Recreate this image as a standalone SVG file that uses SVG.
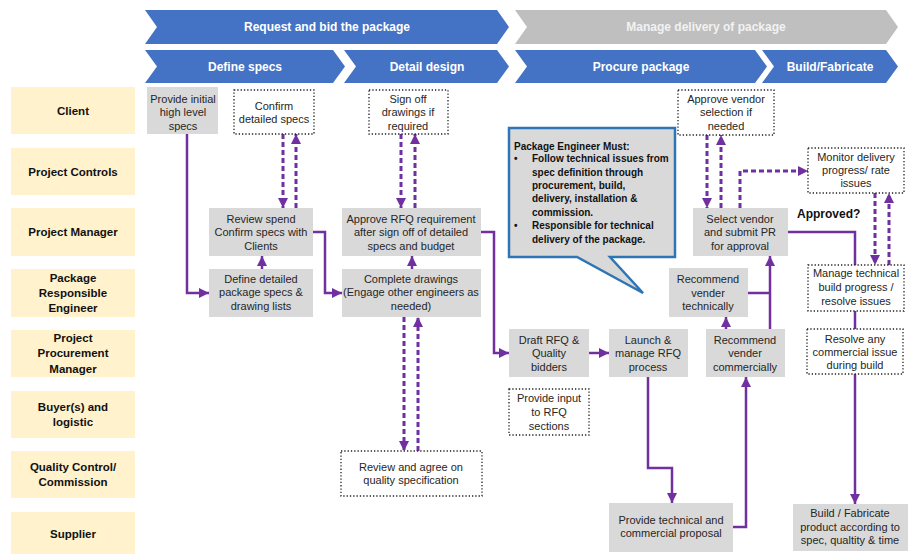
<svg xmlns="http://www.w3.org/2000/svg" width="908" height="554" viewBox="0 0 908 554">
<style>
text{font-family:"Liberation Sans",Arial,sans-serif;}
.ban{fill:#4472C4;}
.bang{fill:#BFBFBF;}
.bt{fill:#fff;font-size:12px;font-weight:bold;text-anchor:middle;}
.btg{fill:#f2f2f2;font-size:12px;font-weight:bold;text-anchor:middle;}
.lane{fill:#FFF2CC;}
.lt{fill:#111;font-size:11.5px;font-weight:bold;text-anchor:middle;}
.box{fill:#D9D9D9;}
.dot{fill:#fff;stroke:#222;stroke-width:1.3;stroke-dasharray:1.3 2;}
.t{fill:#262626;font-size:11px;text-anchor:middle;}
.c{fill:none;stroke:#7030A0;stroke-width:2.5;}
.d{fill:none;stroke:#7030A0;stroke-width:3;stroke-dasharray:5 3;}
.ct{fill:#111;font-size:10px;font-weight:bold;}
</style>
<defs>
<marker id="ah" viewBox="0 0 10 10" refX="10" refY="5" markerWidth="4" markerHeight="4" orient="auto" markerUnits="strokeWidth">
<path d="M0,0 L10,5 L0,10 Z" fill="#7030A0"/>
</marker>
<marker id="ahd" viewBox="0 0 10 10" refX="10" refY="5" markerWidth="3.4" markerHeight="3.4" orient="auto" markerUnits="strokeWidth">
<path d="M0,0 L10,5 L0,10 Z" fill="#7030A0"/>
</marker>
</defs>
<rect width="908" height="554" fill="#fff"/>

<g id="banners">
<polygon class="ban" points="145,10 497,10 509,27 497,44 145,44 157,27"/>
<text class="bt" x="327" y="31">Request and bid the package</text>
<polygon class="bang" points="515,10 886,10 898,27 886,44 515,44 527,27"/>
<text class="btg" x="706" y="31">Manage delivery of package</text>
<polygon class="ban" points="145,50 333,50 345,66.5 333,83 145,83 157,66.5"/>
<text class="bt" x="245" y="71">Define specs</text>
<polygon class="ban" points="344,50 497,50 509,66.5 497,83 344,83 356,66.5"/>
<text class="bt" x="427" y="71">Detail design</text>
<polygon class="ban" points="515,50 755,50 767,66.5 755,83 515,83 527,66.5"/>
<text class="bt" x="641" y="71">Procure package</text>
<polygon class="ban" points="762,50 886,50 898,66.5 886,83 762,83 774,66.5"/>
<text class="bt" x="830" y="71">Build/Fabricate</text>
</g>

<g id="lanes">
<rect class="lane" x="11" y="87" width="124" height="47"/>
<text class="lt" x="73" y="115">Client</text>
<rect class="lane" x="11" y="148" width="124" height="47"/>
<text class="lt" x="73" y="176">Project Controls</text>
<rect class="lane" x="11" y="208" width="124" height="48"/>
<text class="lt" x="73" y="236">Project Manager</text>
<rect class="lane" x="11" y="269" width="124" height="48"/>
<text class="lt" x="73" y="282">Package</text>
<text class="lt" x="73" y="297">Responsible</text>
<text class="lt" x="73" y="312">Engineer</text>
<rect class="lane" x="11" y="330" width="124" height="47"/>
<text class="lt" x="73" y="342">Project</text>
<text class="lt" x="73" y="357">Procurement</text>
<text class="lt" x="73" y="373">Manager</text>
<rect class="lane" x="11" y="391" width="124" height="47"/>
<text class="lt" x="73" y="411">Buyer(s) and</text>
<text class="lt" x="73" y="426">logistic</text>
<rect class="lane" x="11" y="451" width="124" height="47"/>
<text class="lt" x="73" y="471">Quality Control/</text>
<text class="lt" x="73" y="486">Commission</text>
<rect class="lane" x="11" y="512" width="124" height="42"/>
<text class="lt" x="73" y="538">Supplier</text>
</g>

<g id="connectors">
<path class="c" d="M187,134 V293 H209" marker-end="url(#ah)"/>
<path class="c" d="M262,269 V256" marker-end="url(#ah)"/>
<path class="c" d="M313,232 H325 V293 H342" marker-end="url(#ah)"/>
<path class="c" d="M412,269 V256" marker-end="url(#ah)"/>
<path class="d" d="M283,134 V208" marker-end="url(#ahd)"/>
<path class="d" d="M296,208 V134" marker-end="url(#ahd)"/>
<path class="d" d="M401,134 V208" marker-end="url(#ahd)"/>
<path class="d" d="M415,208 V134" marker-end="url(#ahd)"/>
<path class="d" d="M404,317 V451" marker-end="url(#ahd)"/>
<path class="d" d="M418,451 V317" marker-end="url(#ahd)"/>
<path class="c" d="M481,232 H494 V353 H509" marker-end="url(#ah)"/>
<path class="c" d="M589,353 H609" marker-end="url(#ah)"/>
<path class="c" d="M648,377 V468 H672 V503" marker-end="url(#ah)"/>
<path class="c" d="M733,527 H746 V377" marker-end="url(#ah)"/>
<path class="c" d="M726,329 V317" marker-end="url(#ah)"/>
<path class="c" d="M770,329 V256" marker-end="url(#ah)"/>
<path class="c" d="M748,293 H770"/>
<path class="d" d="M707,135 V208" marker-end="url(#ahd)"/>
<path class="d" d="M721,208 V135" marker-end="url(#ahd)"/>
<path class="d" d="M740,208 V171 H808" marker-end="url(#ahd)"/>
<path class="d" d="M875,193 V265" marker-end="url(#ahd)"/>
<path class="d" d="M889,265 V193" marker-end="url(#ahd)"/>
<path class="c" d="M788,232 H855 V265"/>
<path class="c" d="M855,311 V329"/>
<path class="c" d="M855,374 V504" marker-end="url(#ah)"/>
</g>

<g id="n-provide-initial">
<rect class="box" x="147" y="87" width="71" height="47"/>
<text class="t" x="183" y="103">Provide initial</text>
<text class="t" x="183" y="116">high level</text>
<text class="t" x="183" y="130">specs</text>
</g>
<g id="n-confirm-detailed">
<rect class="dot" x="234" y="90" width="80" height="44"/>
<text class="t" x="274" y="110">Confirm</text>
<text class="t" x="274" y="123">detailed specs</text>
</g>
<g id="n-sign-off">
<rect class="dot" x="369" y="90" width="79" height="44"/>
<text class="t" x="408" y="103">Sign off</text>
<text class="t" x="408" y="116">drawings if</text>
<text class="t" x="408" y="130">required</text>
</g>
<g id="n-review-spend">
<rect class="box" x="209" y="208" width="104" height="48"/>
<text class="t" x="261" y="223">Review spend</text>
<text class="t" x="261" y="236">Confirm specs with</text>
<text class="t" x="261" y="250">Clients</text>
</g>
<g id="n-approve-rfq">
<rect class="box" x="342" y="208" width="139" height="48"/>
<text class="t" x="411" y="223">Approve RFQ requirement</text>
<text class="t" x="411" y="236">after sign off of detailed</text>
<text class="t" x="411" y="250">specs and budget</text>
</g>
<g id="n-define-detailed">
<rect class="box" x="209" y="269" width="104" height="48"/>
<text class="t" x="261" y="283">Define detailed</text>
<text class="t" x="261" y="296">package specs &amp;</text>
<text class="t" x="261" y="310">drawing lists</text>
</g>
<g id="n-complete-drawings">
<rect class="box" x="342" y="269" width="139" height="48"/>
<text class="t" x="411" y="283">Complete drawings</text>
<text class="t" x="411" y="296" font-size="10.5">(Engage other engineers as</text>
<text class="t" x="411" y="310">needed)</text>
</g>
<g id="n-callout">
<path d="M509,128 H675 V257 H610 L643,293 L577,257 H509 Z" fill="#D9D9D9" stroke="#2E75B6" stroke-width="2.5" stroke-linejoin="miter"/>
<text class="ct" x="514" y="150">Package Engineer Must:</text>
<text class="ct" x="514" y="162">•</text>
<text class="ct" x="532" y="162">Follow technical issues from</text>
<text class="ct" x="532" y="175.5">spec definition through</text>
<text class="ct" x="532" y="189">procurement, build,</text>
<text class="ct" x="532" y="202">delivery, installation &amp;</text>
<text class="ct" x="532" y="215.5">commission.</text>
<text class="ct" x="514" y="229">•</text>
<text class="ct" x="532" y="229">Responsible for technical</text>
<text class="ct" x="532" y="242.5">delivery of the package.</text>
</g>
<g id="n-approve-vendor">
<rect class="dot" x="678" y="90" width="96" height="45"/>
<text class="t" x="726" y="103">Approve vendor</text>
<text class="t" x="726" y="116">selection if</text>
<text class="t" x="726" y="130">needed</text>
</g>
<g id="n-monitor">
<rect class="dot" x="808" y="148" width="96" height="45"/>
<text class="t" x="856" y="161">Monitor delivery</text>
<text class="t" x="856" y="174">progress/ rate</text>
<text class="t" x="856" y="187">issues</text>
</g>
<g id="n-select-vendor">
<rect class="box" x="693" y="208" width="95" height="48"/>
<text class="t" x="740" y="223">Select vendor</text>
<text class="t" x="740" y="236">and submit PR</text>
<text class="t" x="740" y="250">for approval</text>
</g>
<text x="797" y="218" font-size="12" font-weight="bold" fill="#111">Approved?</text>
<g id="n-manage-technical">
<rect class="dot" x="808" y="265" width="96" height="46"/>
<text class="t" x="856" y="277">Manage technical</text>
<text class="t" x="856" y="291">build progress /</text>
<text class="t" x="856" y="305">resolve issues</text>
</g>
<g id="n-recommend-tech">
<rect class="box" x="669" y="268" width="79" height="49"/>
<text class="t" x="708" y="283">Recommend</text>
<text class="t" x="708" y="297">vender</text>
<text class="t" x="708" y="310">technically</text>
</g>
<g id="n-recommend-comm">
<rect class="box" x="706" y="329" width="79" height="48"/>
<text class="t" x="745" y="344">Recommend</text>
<text class="t" x="745" y="357">vender</text>
<text class="t" x="745" y="371">commercially</text>
</g>
<g id="n-draft-rfq">
<rect class="box" x="509" y="329" width="80" height="48"/>
<text class="t" x="549" y="344">Draft RFQ &amp;</text>
<text class="t" x="549" y="357">Quality</text>
<text class="t" x="549" y="371">bidders</text>
</g>
<g id="n-launch-rfq">
<rect class="box" x="609" y="329" width="79" height="48"/>
<text class="t" x="648" y="344">Launch &amp;</text>
<text class="t" x="648" y="357">manage RFQ</text>
<text class="t" x="648" y="371">process</text>
</g>
<g id="n-provide-input">
<rect class="dot" x="509" y="389" width="80" height="46"/>
<text class="t" x="549" y="402">Provide input</text>
<text class="t" x="549" y="416">to RFQ</text>
<text class="t" x="549" y="430">sections</text>
</g>
<g id="n-review-quality">
<rect class="dot" x="341" y="451" width="141" height="45"/>
<text class="t" x="411" y="471">Review and agree on</text>
<text class="t" x="411" y="484">quality specification</text>
</g>
<g id="n-provide-proposal">
<rect class="box" x="609" y="503" width="124" height="49"/>
<text class="t" x="671" y="524">Provide technical and</text>
<text class="t" x="671" y="537">commercial proposal</text>
</g>
<g id="n-resolve-commercial">
<rect class="dot" x="807" y="329" width="96" height="45"/>
<text class="t" x="855" y="343">Resolve any</text>
<text class="t" x="855" y="356">commercial issue</text>
<text class="t" x="855" y="369">during build</text>
</g>
<g id="n-build">
<rect class="box" x="793" y="504" width="115" height="47"/>
<text class="t" x="850" y="517">Build / Fabricate</text>
<text class="t" x="850" y="531">product according to</text>
<text class="t" x="850" y="544">spec, qualtity &amp; time</text>
</g>
</svg>
